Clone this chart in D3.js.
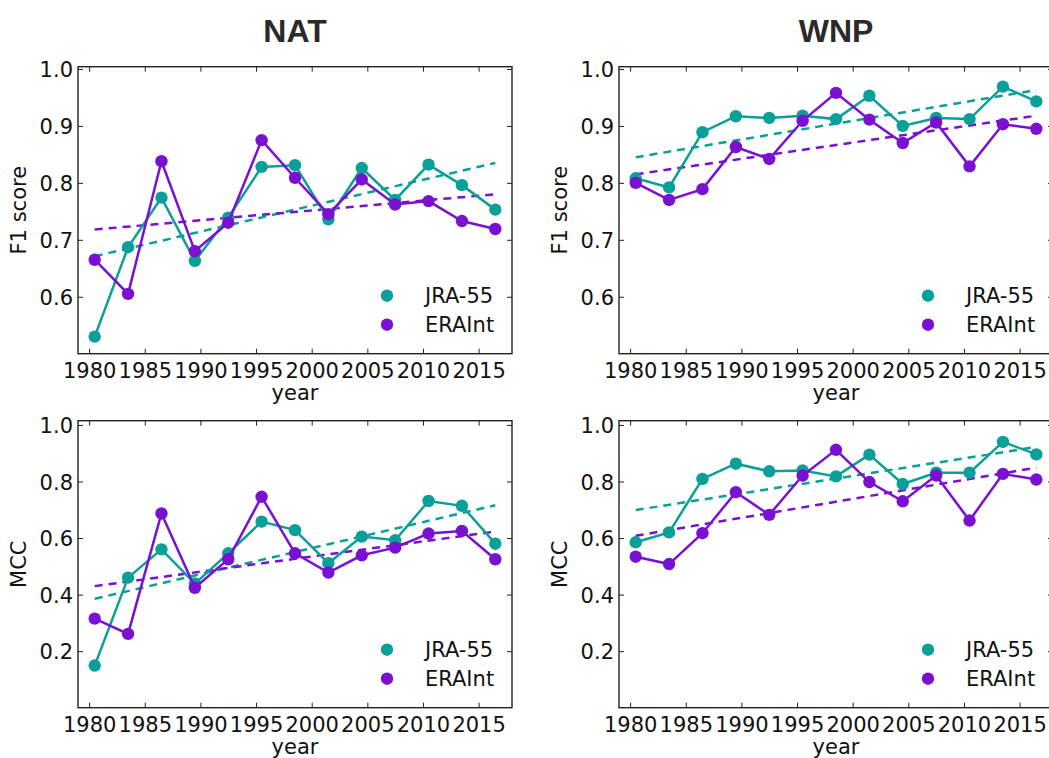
<!DOCTYPE html>
<html>
<head>
<meta charset="utf-8">
<script src="https://cdn.jsdelivr.net/npm/d3@7"></script>
<style>
  body { margin: 0; background: #fff; }
  svg { display: block; }
  text { font-family: "DejaVu Sans", sans-serif; fill: #111; }
</style>
</head>
<body>
<svg id="chart" width="1049" height="758"></svg>
<script>
// ---- data ----
const years = [1980.5, 1983.5, 1986.5, 1989.5, 1992.5, 1995.5, 1998.5, 2001.5, 2004.5, 2007.5, 2010.5, 2013.5, 2016.5];
const xTicks = [1980, 1985, 1990, 1995, 2000, 2005, 2010, 2015];
const regions = ["NAT", "WNP"];
const seriesNames = ["JRA-55", "ERAInt"];
const metrics = ["F1 score", "MCC"];
const f1Ticks = [0.6, 0.7, 0.8, 0.9, 1.0];
const mccTicks = [0.2, 0.4, 0.6, 0.8, 1.0];

const natF1Jra = [0.530, 0.687, 0.774, 0.663, 0.739, 0.828, 0.831, 0.736, 0.826, 0.770, 0.832, 0.796, 0.753];
const natF1Era = [0.665, 0.605, 0.838, 0.680, 0.730, 0.875, 0.809, 0.745, 0.806, 0.762, 0.768, 0.733, 0.719];
const wnpF1Jra = [0.808, 0.792, 0.889, 0.917, 0.914, 0.918, 0.912, 0.953, 0.900, 0.914, 0.912, 0.969, 0.943];
const wnpF1Era = [0.800, 0.770, 0.789, 0.863, 0.842, 0.909, 0.958, 0.911, 0.870, 0.906, 0.829, 0.903, 0.895];
const natMccJra = [0.149, 0.460, 0.560, 0.439, 0.546, 0.658, 0.628, 0.511, 0.605, 0.592, 0.731, 0.714, 0.580];
const natMccEra = [0.315, 0.261, 0.687, 0.424, 0.525, 0.746, 0.546, 0.478, 0.539, 0.566, 0.616, 0.625, 0.525];
const wnpMccJra = [0.585, 0.620, 0.809, 0.863, 0.836, 0.839, 0.818, 0.895, 0.791, 0.831, 0.831, 0.940, 0.896];
const wnpMccEra = [0.534, 0.508, 0.617, 0.762, 0.682, 0.821, 0.912, 0.798, 0.730, 0.821, 0.662, 0.827, 0.807];

// trend lines: value at first and last year
const natF1JraTrend = [0.671, 0.835];
const natF1EraTrend = [0.718, 0.780];
const wnpF1JraTrend = [0.845, 0.963];
const wnpF1EraTrend = [0.815, 0.918];
const natMccJraTrend = [0.385, 0.716];
const natMccEraTrend = [0.430, 0.623];
const wnpMccJraTrend = [0.699, 0.922];
const wnpMccEraTrend = [0.608, 0.849];

// ---- layout ----
const colors = ["#0a9f98", "#7a10d2"];
const svg = d3.select("#chart");
const pw = 434, ph = 287;
const lefts = [78, 619];
const tops = [66.7, 420.7];
const fs = "21px";

const panels = [
  { col: 0, row: 0, ticks: f1Ticks, dom: [0.5, 1.004], series: [natF1Jra, natF1Era], trends: [natF1JraTrend, natF1EraTrend] },
  { col: 1, row: 0, ticks: f1Ticks, dom: [0.5, 1.004], series: [wnpF1Jra, wnpF1Era], trends: [wnpF1JraTrend, wnpF1EraTrend] },
  { col: 0, row: 1, ticks: mccTicks, dom: [0, 1.015], series: [natMccJra, natMccEra], trends: [natMccJraTrend, natMccEraTrend] },
  { col: 1, row: 1, ticks: mccTicks, dom: [0, 1.015], series: [wnpMccJra, wnpMccEra], trends: [wnpMccJraTrend, wnpMccEraTrend] }
];

// titles
regions.forEach((r, i) => {
  svg.append("text")
    .attr("x", lefts[i] + pw / 2).attr("y", 42)
    .attr("text-anchor", "middle")
    .style("font-family", "'Liberation Sans', Arial, sans-serif")
    .style("font-weight", "bold").style("font-size", "32px")
    .style("fill", "#2a2a2a")
    .text(r);
});

panels.forEach(p => {
  const g = svg.append("g").attr("transform", `translate(${lefts[p.col]},${tops[p.row]})`);
  const x = d3.scaleLinear().domain([1979, 2018]).range([0, pw]);
  const y = d3.scaleLinear().domain(p.dom).range([ph, 0]);

  const fmt = d3.format(".1f");
  const xb = g.append("g").attr("transform", `translate(0,${ph})`)
    .call(d3.axisBottom(x).tickValues(xTicks).tickFormat(d3.format("d")).tickSizeInner(-5).tickSizeOuter(0).tickPadding(9));
  const xt = g.append("g")
    .call(d3.axisTop(x).tickValues(xTicks).tickFormat("").tickSizeInner(-5).tickSizeOuter(0));
  const yl = g.append("g")
    .call(d3.axisLeft(y).tickValues(p.ticks).tickFormat(fmt).tickSizeInner(-5).tickSizeOuter(0).tickPadding(5));
  const yr = g.append("g").attr("transform", `translate(${pw},0)`)
    .call(d3.axisRight(y).tickValues(p.ticks).tickFormat("").tickSizeInner(-5).tickSizeOuter(0));
  [xb, xt, yl, yr].forEach(a => {
    a.select(".domain").remove();
    a.selectAll(".tick line").attr("stroke", "#222").attr("stroke-width", 1);
    a.selectAll(".tick text").style("font-size", fs).style("font-family", "'DejaVu Sans', sans-serif").attr("fill", "#111");
  });
  yl.selectAll(".tick text").attr("dy", "0.36em");

  // frame
  g.append("rect").attr("x", 0).attr("y", 0).attr("width", pw).attr("height", ph)
    .attr("fill", "none").attr("stroke", "#222").attr("stroke-width", 1.4);

  // axis titles
  g.append("text").attr("x", pw / 2).attr("y", ph + 46)
    .attr("text-anchor", "middle").style("font-size", fs).text("year");
  g.append("text")
    .attr("transform", `translate(${-52},${ph / 2}) rotate(-90)`)
    .attr("text-anchor", "middle").style("font-size", fs)
    .text(metrics[p.row]);

  const line = d3.line().x((d, i) => x(years[i])).y(d => y(d));

  // trends
  p.trends.forEach((t, si) => {
    g.append("line")
      .attr("x1", x(years[0])).attr("y1", y(t[0]))
      .attr("x2", x(years[years.length - 1])).attr("y2", y(t[1]))
      .attr("stroke", colors[si]).attr("stroke-width", 2.5)
      .attr("stroke-dasharray", "8,6");
  });

  // series
  p.series.forEach((s, si) => {
    g.append("path").datum(s).attr("d", line)
      .attr("fill", "none").attr("stroke", colors[si]).attr("stroke-width", 2.5);
    g.selectAll(null).data(s).enter().append("circle")
      .attr("cx", (d, i) => x(years[i])).attr("cy", d => y(d))
      .attr("r", 6.2).attr("fill", colors[si]);
  });

  // legend
  seriesNames.forEach((n, si) => {
    const ly = 229 + si * 29;
    g.append("circle").attr("cx", 309).attr("cy", ly).attr("r", 6.2).attr("fill", colors[si]);
    g.append("text").attr("x", 347).attr("y", ly).attr("dy", "0.36em")
      .style("font-size", fs).text(n);
  });
});
</script>
</body>
</html>
